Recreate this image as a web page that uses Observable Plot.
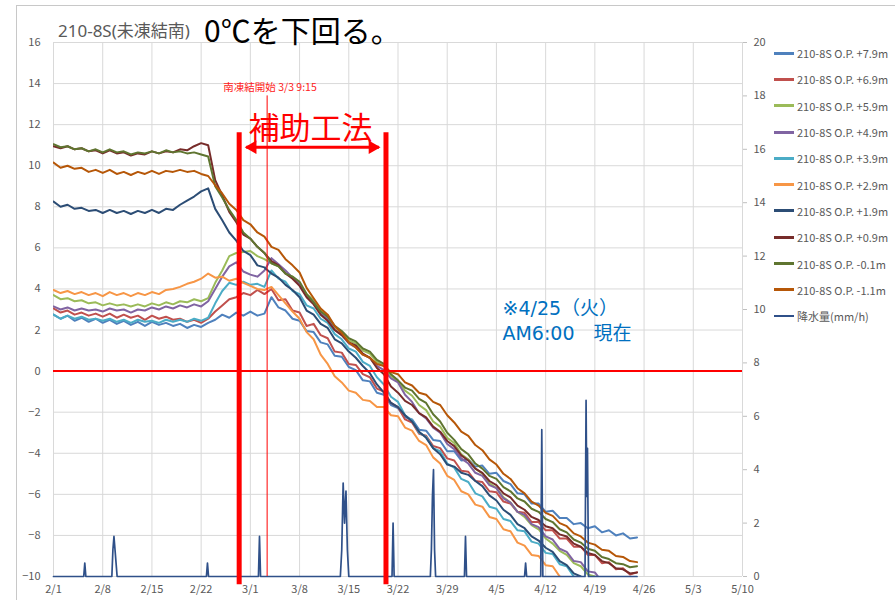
<!DOCTYPE html>
<html><head><meta charset="utf-8">
<script src="https://cdn.jsdelivr.net/npm/d3@7"></script>
<script src="https://cdn.jsdelivr.net/npm/@observablehq/plot@0.6"></script>
<style>
body{margin:0;background:#fff;font-family:"Noto Sans CJK JP","Noto Sans",sans-serif;}
#wrap{position:relative;width:895px;height:600px;overflow:hidden;background:#fff;}
#frame{position:absolute;left:16px;top:5px;width:900px;height:620px;border-left:1px solid #c8c8c8;border-top:1px solid #c8c8c8;}
#chart{position:absolute;left:0;top:0;}
.t1{position:absolute;left:58px;top:22px;font-size:17px;color:#595959;line-height:1;white-space:nowrap;font-family:"Noto Sans","Noto Sans CJK JP",sans-serif;}
.t2{position:absolute;left:204px;top:14px;font-size:30px;color:#000;line-height:1;white-space:nowrap;}
#legend{position:absolute;left:774px;top:40px;}
.li{height:26.3px;display:flex;align-items:center;font-size:11px;color:#595959;white-space:nowrap;}
.sw{width:20px;height:3px;margin-right:3px;}
</style></head>
<body><div id="wrap"><div id="frame"></div><div id="chart"></div>
<div class="t1">210-8S(未凍結南)</div><div class="t2">0℃を下回る。</div>
<div id="legend"></div></div>
<script>
// daily readings, day 0 = 2/1 ... day 83 = 4/25
const days = d3.range(0, 84);

const op79 = [2.75,2.55,2.7,2.45,2.6,2.4,2.55, 2.35,2.5,2.3,2.45,2.25,2.4,2.2, 2.4,2.25,2.35,2.2,2.3,2.1,2.25,
  2.15,2.35,2.5,2.75,2.6,2.85,2.7, 2.9,2.7,2.8,3.6,3.1,2.95,2.55, 2.45,1.95,1.9,1.4,1.3,0.75,0.7,
  0.2,0.05,-0.45,-0.5,-1.05,-1.15,-1.65, -1.8,-2.25,-2.35,-2.85,-2.9,-3.35,-3.4, -3.9,-3.9,-4.35,-4.3,-4.65,-4.6,-5.0,
  -4.95,-5.35,-5.5,-5.95,-6.0,-6.45,-6.45, -6.85,-6.8,-7.15,-7.15,-7.45,-7.4,-7.65, -7.55,-7.85,-7.75,-8.0,-7.9,-8.15,-8.1];
const op69 = [3.05,2.85,2.95,2.75,2.85,2.7,2.8, 2.65,2.8,2.6,2.75,2.6,2.7,2.5, 2.7,2.55,2.65,2.5,2.55,2.4,2.5,
  2.35,2.55,2.9,3.2,3.5,3.6,3.8, 3.7,3.95,3.75,4.0,3.45,3.5,2.95, 2.85,2.2,2.3,1.75,1.6,0.95,0.9,
  0.35,0.3,-0.15,-0.3,-0.85,-1.0,-1.55, -1.75,-2.35,-2.5,-3.05,-3.15,-3.65,-3.75, -4.25,-4.35,-4.85,-4.9,-5.35,-5.4,-5.85,
  -5.9,-6.35,-6.45,-6.85,-6.9,-7.35,-7.35, -7.75,-7.75,-8.15,-8.15,-8.55,-8.55,-8.95, -8.95,-9.35,-9.3,-9.65,-9.6,-9.9,-9.8];
const op59 = [3.7,3.5,3.55,3.4,3.45,3.3,3.35, 3.2,3.3,3.2,3.25,3.15,3.25,3.15, 3.3,3.2,3.35,3.25,3.4,3.35,3.5,
  3.4,3.55,4.3,4.9,5.6,5.75,5.8, 5.85,5.6,5.45,5.25,5.1,4.75,4.6, 4.2,3.75,3.45,2.95,2.65,2.15,1.85,
  1.5,1.35,1.0,0.85,0.45,0.25,-0.25, -0.5,-0.95,-1.2,-1.65,-1.9,-2.45,-2.7, -3.25,-3.5,-4.05,-4.3,-4.75,-5.0,-5.45,
  -5.7,-6.15,-6.4,-6.85,-7.1,-7.5,-7.7, -8.15,-8.4,-8.75,-8.95,-9.35,-9.5,-9.9, -10.0,-10.35,-10.4,-10.75,-10.8,-11.1,-11.2];
const op49 = [3.15,3.0,3.1,2.95,3.05,2.95,3.0, 2.9,3.05,2.95,3.0,2.85,3.0,2.95, 3.1,3.0,3.15,3.05,3.2,3.1,3.25,
  3.15,3.4,4.0,4.6,5.1,5.3,4.85, 4.7,4.6,4.9,5.5,5.2,4.9,4.55, 4.25,3.7,3.35,2.8,2.55,2.0,1.75,
  1.35,1.15,0.8,0.65,0.25,0.05,-0.35, -0.55,-1.15,-1.5,-2.05,-2.3,-2.75,-3.0, -3.55,-3.8,-4.25,-4.5,-4.95,-5.1,-5.55,
  -5.7,-6.2,-6.4,-6.85,-7.0,-7.45,-7.6, -8.05,-8.2,-8.65,-8.8,-9.25,-9.3,-9.75, -9.8,-10.25,-10.3,-10.65,-10.7,-11.05,-11.1];
const op39 = [2.75,2.55,2.7,2.55,2.65,2.5,2.55, 2.45,2.55,2.4,2.5,2.35,2.5,2.4, 2.45,2.35,2.5,2.4,2.5,2.4,2.55,
  2.45,2.6,3.3,3.9,4.3,4.2,4.35, 4.2,4.25,4.1,4.9,4.5,4.35,3.9, 3.75,3.2,3.05,2.55,2.35,1.8,1.55,
  1.1,0.95,0.45,0.25,-0.3,-0.65,-1.25, -1.5,-2.15,-2.4,-3.0,-3.2,-3.75,-3.9, -4.5,-4.7,-5.25,-5.4,-5.95,-6.1,-6.6,
  -6.7,-7.2,-7.3,-7.75,-7.8,-8.3,-8.4, -8.85,-8.9,-9.4,-9.5,-10.0,-10.1,-10.55, -10.6,-11.0,-11.0,-11.4,-11.4,-11.75,-11.8];
const op29 = [3.95,3.8,3.9,3.75,3.85,3.7,3.8, 3.65,3.85,3.7,3.8,3.65,3.8,3.7, 3.85,3.75,3.95,4.0,4.1,4.25,4.35,
  4.5,4.75,4.55,4.6,4.4,4.5,4.3, 4.15,4.0,3.95,4.1,3.7,3.3,2.9, 2.55,1.9,1.55,0.8,0.35,-0.25,-0.55,
  -0.95,-1.05,-1.4,-1.45,-1.75,-1.75,-2.15, -2.2,-2.75,-2.9,-3.4,-3.6,-4.2,-4.5, -5.1,-5.3,-5.85,-6.0,-6.5,-6.6,-7.1,
  -7.2,-7.7,-7.8,-8.35,-8.5,-8.95,-9.0, -9.45,-9.5,-10.0,-10.1,-10.55,-10.6,-11.05, -11.1,-11.5,-11.5,-11.9,-11.9,-12.25,-12.3];
const op19 = [8.25,8.0,8.1,7.9,7.95,7.8,7.85, 7.7,7.85,7.7,7.8,7.65,7.8,7.7, 7.85,7.7,7.9,7.85,8.1,8.3,8.5,
  8.75,8.9,7.9,7.35,6.75,6.35,5.85, 5.65,5.15,5.05,4.75,4.55,4.2,3.95, 3.6,2.95,2.75,2.3,2.1,1.55,1.35,
  0.95,0.65,0.25,-0.1,-0.65,-1.05,-1.55, -1.75,-2.15,-2.45,-2.95,-3.25,-3.75,-4.05, -4.55,-4.65,-4.95,-5.05,-5.35,-5.6,-6.05,
  -6.3,-6.75,-7.0,-7.45,-7.65,-8.05,-8.25, -8.6,-8.8,-9.25,-9.45,-9.85,-10.0,-10.35, -10.5,-10.85,-10.95,-11.25,-11.35,-11.55,-11.6];
const op09 = [10.95,10.85,10.95,10.8,10.85,10.7,10.75, 10.6,10.75,10.6,10.65,10.5,10.6,10.55, 10.7,10.6,10.7,10.65,10.8,10.75,10.95,
  11.1,11.0,9.3,8.55,7.75,7.25,6.65, 6.45,6.05,5.75,5.35,5.15,4.75,4.5, 4.15,3.6,3.25,2.75,2.45,2.0,1.75,
  1.4,1.25,0.85,0.65,0.15,-0.15,-0.75, -1.05,-1.45,-1.65,-2.05,-2.25,-2.7,-2.95, -3.4,-3.65,-4.1,-4.35,-4.75,-4.95,-5.35,
  -5.55,-5.95,-6.15,-6.55,-6.75,-7.1,-7.25, -7.55,-7.65,-7.95,-8.05,-8.4,-8.55,-8.85, -8.95,-9.25,-9.35,-9.6,-9.65,-9.85,-9.8];
const opm01 = [11.05,10.9,10.95,10.8,10.85,10.7,10.8, 10.65,10.8,10.65,10.7,10.55,10.65,10.6, 10.7,10.6,10.75,10.65,10.7,10.6,10.65,
  10.55,10.45,9.0,8.45,7.85,7.35,6.75, 6.45,6.05,5.75,5.25,5.1,4.75,4.6, 4.35,3.75,3.35,2.9,2.65,2.2,1.95,
  1.6,1.45,1.1,0.95,0.55,0.35,-0.15, -0.45,-0.8,-0.95,-1.35,-1.55,-2.1,-2.45, -3.0,-3.35,-3.8,-4.05,-4.5,-4.75,-5.1,
  -5.25,-5.65,-5.85,-6.2,-6.35,-6.7,-6.85, -7.2,-7.35,-7.7,-7.85,-8.2,-8.35,-8.65, -8.75,-9.05,-9.15,-9.35,-9.4,-9.55,-9.5];
const opm11 = [10.15,9.9,10.0,9.85,9.9,9.7,9.8, 9.65,9.8,9.6,9.7,9.55,9.7,9.6, 9.75,9.6,9.75,9.7,9.8,9.7,9.75,
  9.6,9.5,9.05,8.65,8.15,7.85,7.35, 7.15,6.75,6.55,6.05,5.9,5.45,5.15, 4.8,4.05,3.55,3.05,2.75,2.2,1.85,
  1.4,1.15,0.8,0.65,0.35,0.25,-0.05, -0.15,-0.55,-0.7,-1.05,-1.15,-1.5,-1.65, -2.15,-2.5,-2.95,-3.15,-3.6,-3.85,-4.3,
  -4.55,-5.0,-5.25,-5.7,-5.95,-6.35,-6.55, -6.9,-7.05,-7.4,-7.55,-7.9,-8.05,-8.35, -8.45,-8.7,-8.75,-9.0,-9.05,-9.25,-9.3];

// precipitation (mm/h), right axis
const rainDays = [0, 4.3,4.45,4.6, 8.3,8.45,8.6,8.75,8.9,9.05, 21.75,21.9,22.05, 29.15,29.3,29.45,
  40.8,41.0,41.2,41.4,41.6,41.8,42.0, 48.15,48.3,48.45, 53.6,53.75,53.9,54.05,54.2,54.35,
  58.45,58.6,58.75, 67.0,67.15,67.3, 69.3,69.45,69.6, 75.6,75.75,75.85,75.95,76.1, 83];
const rainMm = [0, 0,0.5,0, 0,1.0,1.5,1.0,0.5,0, 0,0.5,0, 0,1.5,0,
  0,1.0,3.5,2.0,3.2,1.0,0, 0,2.0,0, 0,1.0,3.0,4.0,1.0,0,
  0,1.5,0, 0,0.5,0, 0,5.5,0, 0,6.6,3.0,4.8,0, 0];

const seriesNames = ["210-8S O.P. +7.9m","210-8S O.P. +6.9m","210-8S O.P. +5.9m","210-8S O.P. +4.9m","210-8S O.P. +3.9m","210-8S O.P. +2.9m","210-8S O.P. +1.9m","210-8S O.P. +0.9m","210-8S O.P. -0.1m","210-8S O.P. -1.1m"];
const seriesColors = ["#4F81BD","#C0504D","#9BBB59","#8064A2","#4BACC6","#F79646","#2C4D75","#772C2A","#5F7530","#B65708"];
const rainName = "降水量(mm/h)";
const rainColor = "#2F5089";
const seriesValues = [op79,op69,op59,op49,op39,op29,op19,op09,opm01,opm11];

const yTicks = [-10,-8,-6,-4,-2,0,2,4,6,8,10,12,14,16];
const rTicks = [0,2,4,6,8,10,12,14,16,18,20];
const xTickDays = [0,7,14,21,28,35,42,49,56,63,70,77,84,91,98];

// annotations (data units)
const freezeStart = 30.385;   // 3/3 9:15
const freezeLabel = "南凍結開始 3/3 9:15";
const methodStart = 26.41, methodEnd = 47.29;
const methodLabel = "補助工法";
const noteLines = ["※4/25（火）", "AM6:00　現在"];

const base = Date.UTC(2023,1,1);
const toDate = d => new Date(base + d*864e5);
const rToY = r => -10 + r*26/20;

const marks = [
  Plot.gridY(yTicks, {stroke:"#d9d9d9", strokeOpacity:1}),
  Plot.gridX(xTickDays.map(toDate), {stroke:"#d9d9d9", strokeOpacity:1}),
  Plot.axisY(yTicks, {anchor:"left", tickSize:0, tickPadding:13, fill:"#595959", fontSize:11}),
  Plot.axisY(rTicks.map(rToY), {anchor:"right", tickSize:4, tickPadding:7, stroke:"#bfbfbf", fill:"#595959", fontSize:11,
    tickFormat: y => String(Math.round((y+10)*20/26))}),
  Plot.axisX(xTickDays.map(toDate), {tickSize:0, tickPadding:9, fill:"#595959", fontSize:11,
    tickFormat: d => `${d.getUTCMonth()+1}/${d.getUTCDate()}`})
];
seriesValues.forEach((vals, i) => {
  const data = days.map((d, j) => ({date: toDate(d), v: vals[j]}));
  marks.push(Plot.line(data, {x:"date", y:"v", stroke: seriesColors[i], strokeWidth:2, clip:true}));
});
const rain = rainDays.map((d, j) => ({date: toDate(d), y: rToY(rainMm[j])}));
marks.push(Plot.line(rain, {x:"date", y:"y", stroke: rainColor, strokeWidth:1.7}));

// red annotations
marks.push(Plot.ruleY([0], {stroke:"#FF0000", strokeWidth:2}));
marks.push(Plot.ruleX([toDate(freezeStart)], {y1:-10, y2:13.4, stroke:"#FF0000", strokeWidth:1}));
marks.push(Plot.text([freezeLabel], {x: () => toDate(30.8), y: () => 13.8, text: d => d, fill:"#FF2020", fontSize:10.5}));
marks.push(Plot.ruleX([toDate(methodStart), toDate(methodEnd)], {y1:-10.4, y2:11.6, stroke:"#FF0000", strokeWidth:5}));
marks.push(Plot.link([0], {x1: () => toDate(methodStart+1), x2: () => toDate(methodEnd-1), y1: () => 10.9, y2: () => 10.9, stroke:"#FF0000", strokeWidth:3}));
marks.push(Plot.dot([0], {x: () => toDate(methodStart+1.9), y: () => 10.9, symbol:"triangle2", r:6.5, rotate:-90, fill:"#FF0000"}));
marks.push(Plot.dot([0], {x: () => toDate(methodEnd-1.9), y: () => 10.9, symbol:"triangle2", r:6.5, rotate:90, fill:"#FF0000"}));
marks.push(Plot.text([methodLabel], {x: () => toDate((methodStart+methodEnd)/2 - 0.3), y: () => 11.8, text: d => d, fill:"#FF0000", fontSize:31}));
const noteFont = '"DejaVu Sans","Noto Sans CJK JP",sans-serif';
marks.push(Plot.text([noteLines[0]], {x: () => toDate(63.86), y: () => 3.05, text: d => d, fill:"#0070C0", fontSize:19, textAnchor:"start", fontFamily: noteFont}));
marks.push(Plot.text([noteLines[1]], {x: () => toDate(63.86), y: () => 1.8, text: d => d, fill:"#0070C0", fontSize:19, textAnchor:"start", fontFamily: noteFont}));

const chart = Plot.plot({
  width: 895, height: 600,
  marginLeft: 53, marginRight: 153, marginTop: 42, marginBottom: 24,
  style: {fontFamily: '"Noto Sans CJK JP","Noto Sans",sans-serif', fontSize: "11px", background: "transparent", overflow: "visible"},
  x: {type: "utc", domain: [toDate(0), toDate(98)]},
  y: {domain: [-10, 16]},
  marks
});
document.getElementById("chart").appendChild(chart);

const leg = document.getElementById("legend");
seriesNames.concat([rainName]).forEach((name, i) => {
  const row = document.createElement("div"); row.className = "li";
  const sw = document.createElement("div"); sw.className = "sw";
  sw.style.background = i < seriesColors.length ? seriesColors[i] : rainColor;
  if (i >= seriesColors.length) sw.style.height = "2px";
  const tx = document.createElement("span"); tx.textContent = name;
  row.appendChild(sw); row.appendChild(tx); leg.appendChild(row);
});
</script></body></html>
